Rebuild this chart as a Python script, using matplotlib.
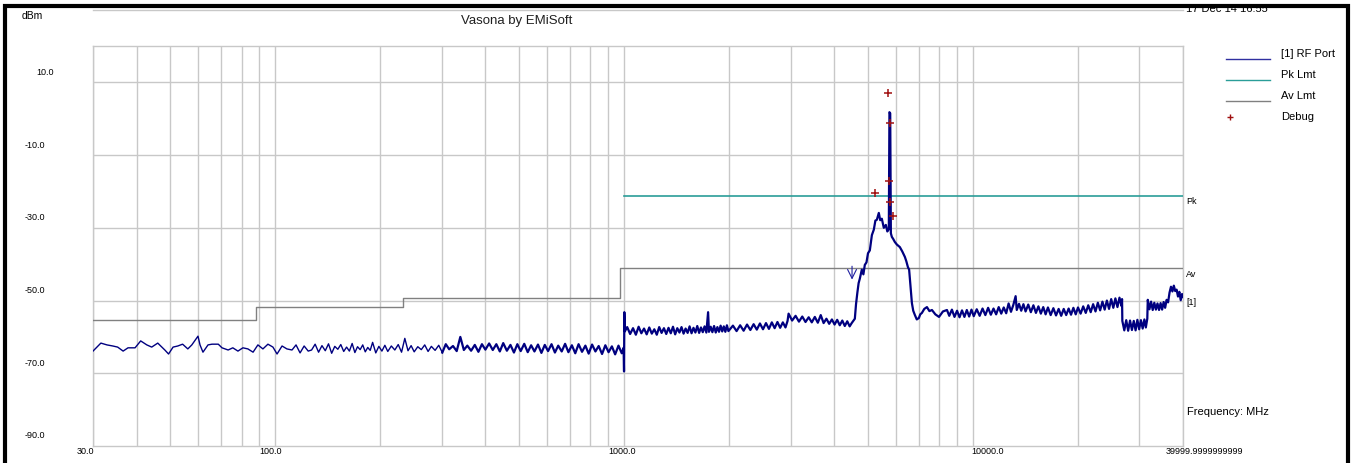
import matplotlib
matplotlib.use("Agg")
from matplotlib import pyplot as plt
from matplotlib.lines import Line2D
from matplotlib.patches import Rectangle
from matplotlib.ticker import LogLocator, NullFormatter
from matplotlib.transforms import offset_copy, Bbox, TransformedBbox

plt.rcParams["font.family"] = ["Liberation Sans", "DejaVu Sans"]

# RF port trace (MHz / dBm)
low_freq = [30, 31.6, 32.9, 34.2, 35.3, 36.6, 37.8, 39.6, 41.1, 42.8, 44.2, 46.0, 48.2, 49.4,
            50.9, 52.5, 54.2, 56.1, 57.6, 60.0, 60.8, 62.0, 64.1, 65.8, 68.6, 70.3, 73.2, 75.5,
            78.1, 80.7, 83.4, 86.3, 89.1, 92.1, 95.2, 98.4, 101.1, 104.5, 107.9, 111.6, 114.6,
            117.7, 120.9, 124.2]
low_level = [-63.9, -61.7, -62.2, -62.5, -62.8, -63.9, -63.0, -63.0, -61.1, -62.2, -62.8, -61.7,
             -63.6, -64.7, -62.8, -62.5, -62.0, -63.3, -62.2, -59.8, -62.2, -64.2, -62.2, -62.0,
             -62.0, -63.0, -63.6, -63.0, -63.9, -63.0, -63.3, -64.2, -62.2, -63.3, -62.0, -62.8,
             -64.7, -62.5, -63.3, -63.6, -62.2, -64.4, -62.5, -63.9]

mid_freq = [127, 130, 133, 136, 139, 142, 145, 148, 151, 154, 157, 160, 163, 166, 169, 172, 175,
            178, 181, 184, 187, 190, 194, 198, 202, 206, 210, 215, 220, 225, 230, 235, 240, 245,
            250, 256, 262, 268, 274, 280, 287, 294, 301, 308, 315, 323, 331, 339, 347, 355, 364,
            373, 382, 391, 400, 410, 420, 430, 440, 450, 461, 472, 483, 494, 505, 517, 529, 541,
            553, 566, 579, 592, 605, 619, 633, 647, 662, 677, 692, 708, 724, 740, 757, 774, 791,
            809, 827, 845, 864, 883, 902, 922, 942, 963, 984, 996, 999, 1001, 1004]
mid_level = [-63.6, -62.0, -64.2, -62.4, -63.8, -61.9, -64.5, -62.6, -63.4, -62.1, -64.0, -62.8,
             -63.9, -61.8, -64.3, -62.7, -63.5, -62.2, -64.1, -62.9, -63.7, -61.5, -64.4, -62.6,
             -63.9, -62.3, -64.0, -62.5, -63.6, -62.1, -64.2, -60.4, -63.8, -62.4, -64.1, -62.7,
             -63.5, -62.2, -64.0, -62.6, -63.7, -62.3, -64.3, -62.0, -63.4, -62.5, -63.9, -60.0,
             -63.6, -62.4, -63.8, -62.2, -64.1, -62.0, -63.5, -61.8, -63.6, -62.0, -64.0, -61.7,
             -63.8, -62.2, -64.3, -62.0, -63.9, -61.9, -64.2, -62.3, -64.0, -62.1, -64.4, -62.2,
             -63.9, -62.0, -64.3, -62.4, -64.0, -61.9, -64.2, -62.3, -64.5, -62.0, -64.1, -62.4,
             -64.6, -62.1, -64.0, -62.5, -64.7, -62.3, -64.2, -62.6, -64.8, -62.4, -64.5, -63.0,
             -69.5, -53.2, -58.5]

band_freq = [1020, 1040, 1060, 1080, 1100, 1120, 1140, 1160, 1180, 1200, 1220, 1240, 1260, 1280,
             1300, 1320, 1340, 1360, 1380, 1400, 1420, 1440, 1460, 1480, 1500, 1520, 1540, 1560,
             1580, 1600, 1620, 1640, 1660, 1680, 1700, 1720, 1740, 1750, 1770, 1790, 1810, 1830,
             1850, 1870, 1890, 1910, 1930, 1950, 1970, 1990, 2050, 2100, 2150, 2200, 2250, 2300,
             2350, 2400, 2450, 2500, 2550, 2600, 2650, 2700, 2750, 2800, 2850, 2900, 2940, 2960,
             3030, 3100, 3170, 3240, 3310, 3380, 3450, 3520, 3590, 3660, 3730, 3800, 3870, 3940,
             4010, 4080, 4150, 4220, 4290, 4360, 4430, 4490]
band_level = [-57.3, -59.2, -57.6, -59.4, -57.2, -59.0, -57.7, -59.3, -57.4, -59.1, -57.9, -59.4,
              -57.3, -58.9, -57.6, -59.2, -57.5, -59.0, -57.2, -59.3, -57.6, -58.8, -57.3, -59.1,
              -57.7, -58.9, -57.1, -59.0, -57.5, -58.8, -57.0, -58.9, -57.4, -58.7, -57.1, -58.8,
              -53.2, -58.6, -57.2, -58.7, -57.0, -58.8, -57.3, -58.6, -56.9, -58.5, -57.1, -58.6,
              -56.8, -58.4, -56.9, -58.4, -56.8, -58.3, -56.6, -58.1, -56.5, -58.0, -56.3, -57.9,
              -56.2, -57.8, -56.0, -57.6, -55.9, -57.5, -56.0, -57.4, -55.6, -53.6, -55.5, -54.2,
              -55.8, -54.4, -55.9, -54.6, -56.0, -54.5, -56.1, -54.0, -56.2, -55.0, -56.4, -55.2,
              -56.6, -55.3, -56.8, -55.5, -57.0, -55.7, -57.1, -56.2]

peak_freq = [4584, 4620, 4660, 4700, 4737, 4800, 4850, 4896, 4950, 5000, 5061, 5130, 5196, 5250,
             5301, 5370, 5420, 5478, 5550, 5625, 5680, 5737, 5760, 5790, 5815, 5853, 5900, 5970,
             6050, 6170, 6270, 6378, 6440, 6507, 6560, 6620, 6681, 6740, 6815, 6900, 6996, 7060,
             7137, 7250, 7378, 7500, 7626, 7800, 7989, 8200, 8421]
peak_level = [-55.0, -51.0, -47.9, -45.2, -44.0, -41.5, -42.8, -40.2, -39.5, -37.0, -36.2, -32.0,
              -30.5, -28.0, -27.8, -25.9, -27.9, -27.5, -30.0, -29.2, -31.0, -30.4, 1.8, 1.5,
              -31.5, -32.5, -33.0, -33.9, -34.6, -35.3, -36.5, -38.0, -39.2, -40.8, -41.5, -46.0,
              -50.7, -52.8, -54.0, -55.2, -54.8, -53.8, -53.4, -52.3, -51.8, -52.9, -52.6, -53.8,
              -54.5, -53.0, -52.6]

high_freq = [8550, 8700, 8850, 9000, 9150, 9300, 9450, 9600, 9750, 9900, 10050, 10250, 10450,
             10650, 10850, 11050, 11250, 11450, 11650, 11850, 12050, 12250, 12450, 12650, 12850,
             13050, 13250, 13350, 13550, 13750, 13950, 14150, 14400, 14650, 14900, 15150, 15400,
             15650, 15900, 16150, 16400, 16700, 17000, 17300, 17600, 17900, 18200, 18500, 18800,
             19100, 19400, 19700, 20000, 20350, 20700, 21050, 21400, 21750, 22100, 22450, 22800,
             23150, 23500, 23850, 24200, 24550, 24900, 25250, 25600, 25950, 26300, 26650, 26750,
             26800, 27150, 27500, 27850, 28200, 28550, 28900, 29250, 29600, 29950, 30300, 30650,
             31000, 31300, 31600, 31700, 32050, 32400, 32750, 33100, 33450, 33800, 34150, 34500,
             34850, 35200, 35550, 35900, 36250, 36600, 36950, 37300, 37650, 38000, 38350, 38700,
             39050, 39400, 39750, 40000]
high_level = [-54.2, -52.5, -54.5, -52.8, -54.6, -52.7, -54.5, -52.6, -54.4, -52.5, -54.3, -52.4,
              -54.2, -52.2, -54.0, -52.0, -53.9, -52.2, -53.8, -51.8, -53.6, -51.9, -53.5, -50.8,
              -53.1, -51.2, -48.8, -52.6, -50.9, -52.8, -51.0, -53.0, -51.1, -53.2, -51.3, -53.4,
              -51.6, -53.6, -51.8, -53.8, -51.9, -54.0, -52.1, -54.1, -52.3, -54.2, -52.3, -54.0,
              -52.2, -53.9, -52.0, -53.8, -51.9, -53.6, -51.6, -53.4, -51.3, -53.2, -51.0, -53.0,
              -50.6, -52.7, -50.3, -52.5, -50.0, -52.3, -49.6, -52.0, -49.4, -51.8, -49.2, -51.5,
              -49.6, -55.6, -58.2, -55.4, -58.3, -55.5, -58.1, -55.6, -58.2, -55.3, -57.9, -55.4,
              -57.7, -55.2, -57.4, -55.0, -49.8, -52.4, -50.3, -52.6, -50.6, -52.5, -50.8, -52.6,
              -50.7, -52.5, -50.4, -52.0, -49.8, -50.5, -47.8, -46.2, -47.5, -45.9, -47.4, -47.0,
              -48.9, -47.6, -49.9, -48.2, -49.0]

rf_freq = low_freq + mid_freq + band_freq + peak_freq + high_freq
rf_level = low_level + mid_level + band_level + peak_level + high_level

# limit lines
av_freq = [30, 88, 232, 970, 40000]
av_level = [-55.4, -51.8, -49.3, -41.1, -41.1]
pk_freq = [1000, 40000]
pk_level = [-21.2, -21.2]

# debug markers
debug_freq = [5700, 5737, 5776, 5230, 5776, 5892]
debug_level = [7.1, -17.1, -1.2, -20.4, -22.9, -26.8]
marker_freq = 4500
marker_level = -45.0

x_ticks = [30, 100, 1000, 10000, 39999.9999999999]
x_labels = ["30.0", "100.0", "1000.0", "10000.0", "39999.9999999999"]
x_label_shift = [-16, -16, -16, -2, -17]
y_ticks = [10, -10, -30, -50, -70, -90]
y_labels = ["10.0", "-10.0", "-30.0", "-50.0", "-70.0", "-90.0"]

W, H = 1355, 463
fig = plt.figure(figsize=(W / 100, H / 100), dpi=100)
fx = lambda px: px / W
fy = lambda py: 1 - py / H
ax = fig.add_axes([fx(93), fy(446), fx(1183) - fx(93), fy(46) - fy(446)])

NAVY = "#000080"
TEAL = "#2a9d98"
GREY = "#808080"
GRID = "#c8c8c8"

# thin line where the sweep is sparse, heavier where it is dense noise
k = rf_freq.index(301)
ax.plot(rf_freq[:k + 1], rf_level[:k + 1], color=NAVY, lw=1.0, zorder=4)
ax.plot(rf_freq[k:], rf_level[k:], color=NAVY, lw=1.6, zorder=4)
ax.plot(av_freq, av_level, color=GREY, lw=1.0, drawstyle="steps-post", zorder=3)
ax.plot(pk_freq, pk_level, color=TEAL, lw=1.2, zorder=3)
ax.plot(debug_freq, debug_level, ls="none", marker="+", ms=6, mew=1.1, color="#a01010", zorder=5)
ax.annotate("", xy=(marker_freq, marker_level), xytext=(marker_freq, marker_level + 5.2),
            arrowprops=dict(arrowstyle="->", color="#2020a0", lw=0.8, mutation_scale=16))

ax.set_xscale("log")
ax.set_xlim(30, 40000)
ax.set_ylim(-90, 20)
ax.set_xticks([100, 1000, 10000])
ax.xaxis.set_minor_locator(LogLocator(base=10, subs=range(2, 10), numticks=20))
ax.xaxis.set_minor_formatter(NullFormatter())
ax.set_yticks([10, -10, -30, -50, -70])
ax.tick_params(which="both", length=0, labelleft=False, labelbottom=False)
ax.grid(which="both", axis="x", color=GRID, lw=1.0)
ax.grid(which="major", axis="y", color=GRID, lw=1.0)
for s in ax.spines.values():
    s.set_color(GRID)
    s.set_linewidth(1.0)

# tick labels, placed like the original software does
for v, lab, dx in zip(x_ticks, x_labels, x_label_shift):
    xt = offset_copy(ax.get_xaxis_transform(), fig=fig, x=dx, y=0, units="dots")
    ax.text(v, -0.015, lab, transform=xt, ha="left", va="center", fontsize=6.5, clip_on=False)
yt = offset_copy(ax.get_yaxis_transform(), fig=fig, x=0, y=10, units="dots")
for v, lab in zip(y_ticks, y_labels):
    xpos = -0.0523 if v > 0 else -0.0624
    ax.text(xpos, v, lab, transform=yt, ha="left", va="center", fontsize=6.5, clip_on=False)

rt = offset_copy(ax.get_yaxis_transform(), fig=fig, x=3, y=-6, units="dots")
ax.text(1.0, pk_level[-1], "Pk", transform=rt, ha="left", va="center", fontsize=6.5, clip_on=False)
ax.text(1.0, av_level[-1], "Av", transform=rt, ha="left", va="center", fontsize=6.5, clip_on=False)
ax.text(1.0, rf_level[-1], "[1]", transform=rt, ha="left", va="center", fontsize=6.5, clip_on=False)

fig.text(fx(1187), fy(412), "Frequency: MHz", ha="left", va="center", fontsize=8)
fig.text(fx(22), fy(16), "dBm", ha="left", va="center", fontsize=7.5)
fig.text(fx(517), fy(21), "Vasona by EMiSoft", ha="center", va="center", fontsize=9.5, color="#202020")
date = fig.text(fx(1186), fy(11.7), "17 Dec 14 16:55", ha="left", va="baseline", fontsize=8, zorder=1)
date.set_clip_box(TransformedBbox(Bbox([[fx(1150), 0], [fx(1345), fy(7)]]), fig.transFigure))
date.set_clip_on(True)
fig.add_artist(Line2D([fx(93), fx(1183)], [fy(10), fy(10)], color=GRID, lw=1.0))

# legend
leg_items = [("[1] RF Port", "#3030a0", 54, 59), ("Pk Lmt", TEAL, 75, 80), ("Av Lmt", GREY, 96, 101)]
for lab, col, ty, ly in leg_items:
    fig.add_artist(Line2D([fx(1226), fx(1270)], [fy(ly), fy(ly)], color=col, lw=1.0))
    fig.text(fx(1281), fy(ty), lab, ha="left", va="center", fontsize=8)
fig.add_artist(Line2D([fx(1230)], [fy(117)], ls="none", marker="+", ms=5, mew=1.0, color="#a01010"))
fig.text(fx(1281), fy(117), "Debug", ha="left", va="center", fontsize=8)

# outer black frame
fig.add_artist(Rectangle((fx(5.5), fy(475)), fx(1348) - fx(5.5), fy(5.5) - fy(475),
                         transform=fig.transFigure, fill=False, ec="black", lw=3, zorder=10))

fig.savefig("out.png", dpi=100, facecolor="white")
